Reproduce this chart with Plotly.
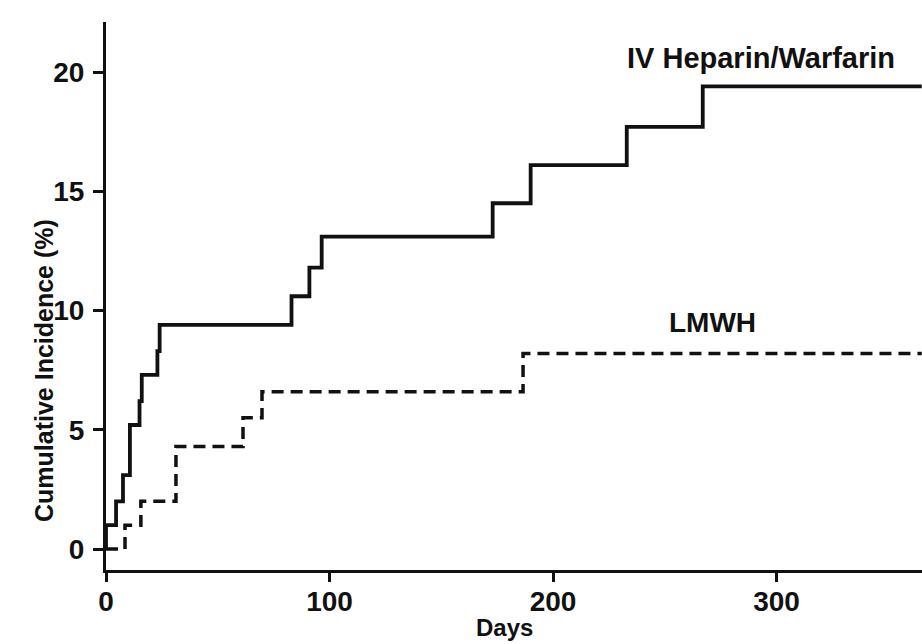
import plotly.graph_objects as go

# Data
heparin_days = [0, 0, 4.5, 7.6, 10.7, 15, 16, 23, 24, 83, 91, 96.5, 173, 190, 233, 267, 365]
heparin_inc = [0, 1.0, 2.0, 3.1, 5.2, 6.2, 7.3, 8.3, 9.4, 10.6, 11.8, 13.1, 14.5, 16.1, 17.7, 19.4, 19.4]

lmwh_days = [0, 8.5, 15.6, 31.3, 61.3, 69.8, 186.6, 365]
lmwh_inc = [0, 1.0, 2.0, 4.3, 5.5, 6.6, 8.2, 8.2]

x_ticks = [0, 100, 200, 300]
y_ticks = [0, 5, 10, 15, 20]

FONT = "Liberation Sans"

fig = go.Figure()
fig.add_trace(go.Scatter(
    x=heparin_days, y=heparin_inc, mode="lines", line_shape="hv",
    line=dict(color="#111111", width=3.8), name="IV Heparin/Warfarin",
    showlegend=False, cliponaxis=False))
fig.add_trace(go.Scatter(
    x=lmwh_days, y=lmwh_inc, mode="lines", line_shape="hv",
    line=dict(color="#111111", width=3.5, dash="12px,7px"), name="LMWH",
    showlegend=False))

fig.update_layout(
    width=922, height=644,
    margin=dict(l=106, r=0, t=22, b=74),
    paper_bgcolor="white", plot_bgcolor="white",
    font=dict(family=FONT, color="#111111"),
    xaxis=dict(range=[0, 365.1], tickvals=x_ticks, ticks="outside", ticklen=9,
               tickwidth=2.5, tickcolor="#111111", showline=True, linewidth=3,
               linecolor="#111111", showgrid=False, zeroline=False,
               ticklabelstandoff=-5,
               tickfont=dict(size=28, family=FONT, weight="bold")),
    yaxis=dict(range=[-0.88, 22.1], tickvals=y_ticks, ticks="outside", ticklen=10,
               tickwidth=2.5, tickcolor="#111111", showline=True, linewidth=3,
               linecolor="#111111", showgrid=False, zeroline=False,
               ticklabelstandoff=3,
               tickfont=dict(size=28, family=FONT, weight="bold")),
    annotations=[
        dict(text="IV Heparin/Warfarin", x=761, y=58, showarrow=False,
             font=dict(size=29, family=FONT, weight="bold")),
        dict(text="LMWH", x=712, y=322, showarrow=False,
             font=dict(size=28, family=FONT, weight="bold")),
        dict(text="Days", x=504, y=627, showarrow=False,
             font=dict(size=24, family=FONT, weight="bold")),
        dict(text="Cumulative Incidence (%)", x=44, y=371, showarrow=False,
             textangle=-90, font=dict(size=25, family=FONT, weight="bold")),
    ],
)

# convert pixel positions of annotations into paper coordinates
pw, ph = 922 - 106 - 0, 644 - 22 - 74
for a in fig.layout.annotations:
    px, py = a.x, a.y
    a.xref = "paper"
    a.yref = "paper"
    a.x = (px - 106) / pw
    a.y = (644 - 74 - py) / ph
    a.xanchor = "center"
    a.yanchor = "middle"

fig.write_html("out.html")
